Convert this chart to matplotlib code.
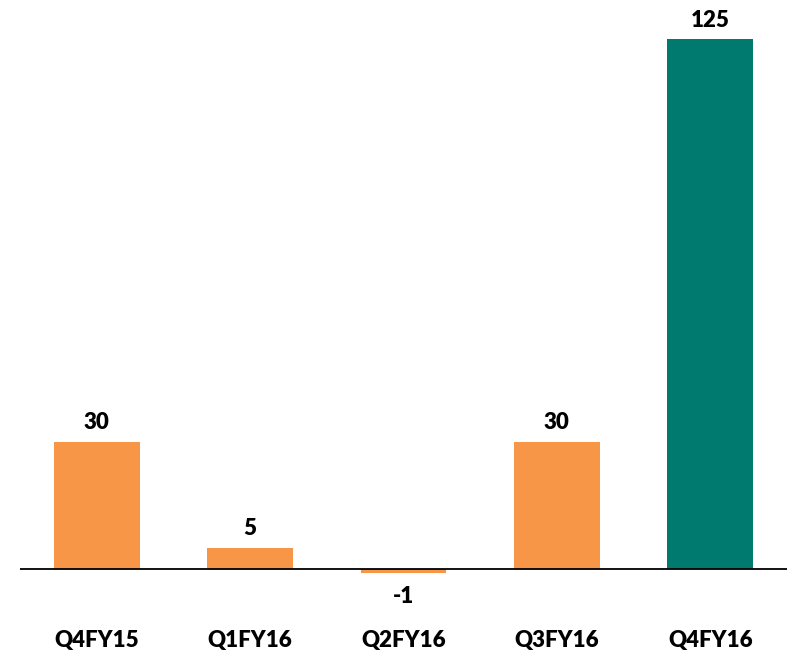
import matplotlib
matplotlib.use('Agg')
import matplotlib.pyplot as plt

quarters = ['Q4FY15', 'Q1FY16', 'Q2FY16', 'Q3FY16', 'Q4FY16']
values = [30, 5, -1, 30, 125]
colors = ['#F79646', '#F79646', '#F79646', '#F79646', '#00796F']

plt.rcParams['font.family'] = ['Lato', 'DejaVu Sans']

fig = plt.figure(figsize=(7.87, 6.56), dpi=100)
ax = fig.add_axes([20/787, 0.1197, 767/787, 0.853])

x = range(len(quarters))
ax.bar(x, values, width=0.56, color=colors, zorder=2)
ax.axhline(0, color='black', lw=1.3, zorder=3)

for i, v in enumerate(values):
    if v >= 0:
        ax.annotate(str(v), (i, v), xytext=(0, 6), textcoords='offset points',
                    ha='center', va='bottom', fontsize=16, fontweight='heavy')
    else:
        ax.annotate(str(v), (i, v), xytext=(0, -9), textcoords='offset points',
                    ha='center', va='top', fontsize=16, fontweight='heavy')

ax.set_xlim(-0.5, 4.5)
ax.set_ylim(-2, 130)
ax.set_xticks(list(x))
ax.set_xticklabels(quarters, fontsize=16, fontweight='heavy')
ax.tick_params(axis='x', length=0, pad=38)
ax.set_yticks([])
for s in ax.spines.values():
    s.set_visible(False)

plt.savefig('out.png', dpi=100)
